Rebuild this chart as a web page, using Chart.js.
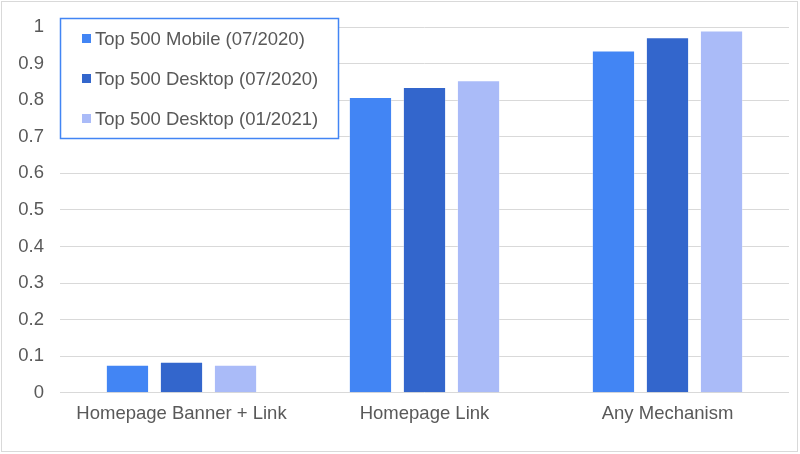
<!DOCTYPE html>
<html>
<head>
<meta charset="utf-8">
<title>Mechanism share</title>
<style>
html,body{margin:0;padding:0;background:#fff;}
#wrap{width:800px;height:454px;position:relative;}
</style>
</head>
<body>
<div id="wrap"><canvas id="chart" width="800" height="454"></canvas></div>
<script src="https://cdn.jsdelivr.net/npm/chart.js"></script>
<script>
const categories = ["Homepage Banner + Link", "Homepage Link", "Any Mechanism"];
const seriesNames = ["Top 500 Mobile (07/2020)", "Top 500 Desktop (07/2020)", "Top 500 Desktop (01/2021)"];
const mobile2020 = [0.077, 0.809, 0.936];
const desktop2020 = [0.085, 0.836, 0.972];
const desktop2021 = [0.077, 0.855, 0.991];
const colors = ["#4285F4", "#3366CC", "#AABBF8"];
const yTicks = [0, 0.1, 0.2, 0.3, 0.4, 0.5, 0.6, 0.7, 0.8, 0.9, 1];

const FONT = "'Liberation Sans', Arial, sans-serif";
const GREY = "#595959";

// white background + light frame round the whole chart
const frame = {
  id: "frame",
  beforeDraw(c){
    const g = c.ctx;
    g.save();
    g.fillStyle = "#fff";
    g.fillRect(0, 0, c.width, c.height);
    g.strokeStyle = "#d9d9d9";
    g.lineWidth = 1;
    g.strokeRect(1.5, 1.5, c.width - 4, c.height - 4);
    g.restore();
  }
};

// boxed legend sitting inside the plot, top-left
const boxLegend = {
  id: "boxLegend",
  afterDraw(c){
    const g = c.ctx, a = c.chartArea;
    const x = a.left, y = 18, w = 278, h = 120;
    g.save();
    g.fillStyle = "#fff";
    g.fillRect(x, y, w, h);
    g.strokeStyle = "#4285F4";
    g.lineWidth = 1.5;
    g.strokeRect(x + 0.5, y + 0.5, w, h);
    g.font = "18.5px " + FONT;
    g.textBaseline = "middle";
    const rows = [38.5, 78.5, 118.5];
    c.data.datasets.forEach((ds, i) => {
      g.fillStyle = ds.backgroundColor;
      g.fillRect(x + 22, rows[i] - 4.5, 9, 9);
      g.fillStyle = GREY;
      g.fillText(ds.label, x + 35, rows[i] + 1);
    });
    g.restore();
  }
};

const ctx = document.getElementById("chart").getContext("2d");
new Chart(ctx, {
  type: "bar",
  data: {
    labels: categories,
    datasets: [mobile2020, desktop2020, desktop2021].map((d, i) => ({
      label: seriesNames[i],
      data: d,
      backgroundColor: colors[i],
      borderColor: "rgba(255,255,255,0.3)",
      borderWidth: 1,
      categoryPercentage: 0.667,
      barPercentage: 0.8
    }))
  },
  options: {
    responsive: false,
    animation: false,
    layout: { padding: { left: 0, right: 11, top: 14, bottom: 27 } },
    plugins: { legend: { display: false }, tooltip: { enabled: false } },
    scales: {
      x: {
        grid: { display: false },
        border: { display: false },
        ticks: { color: GREY, font: { family: FONT, size: 18.5 }, padding: 2 }
      },
      y: {
        min: 0,
        max: 1,
        afterBuildTicks(s){ s.ticks = yTicks.map(v => ({ value: v })); },
        afterFit(s){ s.width = 60; },
        grid: { color: "#d9d9d9", lineWidth: 1, drawTicks: false },
        border: { display: false },
        ticks: { color: GREY, font: { family: FONT, size: 18.5 }, padding: 16,
                 callback: v => String(v) }
      }
    }
  },
  plugins: [frame, boxLegend]
});
</script>
</body>
</html>
